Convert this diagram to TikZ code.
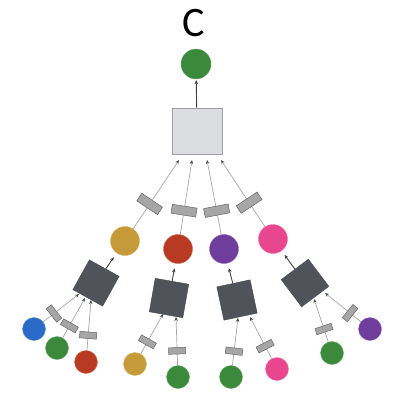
\documentclass[tikz,border=0pt]{standalone}
\usepackage{fontspec}
\setsansfont{Carlito}
\usetikzlibrary{arrows.meta}

\definecolor{leafgreen}{HTML}{3B8A3C}
\definecolor{gold}{HTML}{C49B38}
\definecolor{brick}{HTML}{B93A22}
\definecolor{plum}{HTML}{6F3D9B}
\definecolor{rose}{HTML}{E8468F}
\definecolor{azure}{HTML}{2B6BC8}
\definecolor{slate}{HTML}{50535A}
\definecolor{sumfill}{HTML}{DCDDE0}

\tikzset{
  ball/.style={circle, fill=#1, draw=#1!75!white, inner sep=0pt, minimum size=29pt},
  leaf/.style={ball=#1, minimum size=23pt},
  op/.style={draw=slate!85!black, fill=slate, inner sep=0pt, minimum size=34pt},
  wt/.style={sloped, draw=gray!80!black, fill=gray!70, inner sep=0pt, line width=0.5pt,
    minimum width=9pt, minimum height=25pt},
  lwt/.style={wt, minimum width=6.5pt, minimum height=17pt},
  link/.style={draw=gray!70, line width=0.7pt, -{Stealth[length=4pt,width=3.5pt,color=black!70]}},
  feed/.style={draw=black!75, line width=0.9pt, -{Stealth[length=4pt,width=3.5pt]}, shorten >=5pt}
}

\begin{document}
\begin{tikzpicture}[x=1pt,y=-1pt]
   \useasboundingbox (0,0) rectangle (398,397);
   \node (title) at (194,23) {\sffamily\fontsize{42}{42}\selectfont C};

   % output and sum
   \node[ball=leafgreen, minimum size=30pt] (out) at (196,64) {};
   \node[draw=gray!75, fill=sumfill, line width=0.8pt, minimum width=50pt, minimum height=46pt] (sum) at (197,131) {};

   % hidden layer
   \node[ball=gold]  (h_1) at (125,241) {};
   \node[ball=brick] (h_2) at (178,249) {};
   \node[ball=plum]  (h_3) at (224,249) {};
   \node[ball=rose]  (h_4) at (273,239) {};

   \node[op, rotate=-29] (op_1) at (96,283) {};
   \node[op, rotate=-10] (op_2) at (169,298) {};
   \node[op, rotate=12]  (op_3) at (237,300) {};
   \node[op, rotate=37]  (op_4) at (305,283) {};

   % inputs
   \node[leaf=azure]     (x_1) at (34,329) {};
   \node[leaf=leafgreen] (x_2) at (57,348) {};
   \node[leaf=brick]     (x_3) at (86,362) {};
   \node[leaf=gold]      (x_4) at (135,364) {};
   \node[leaf=leafgreen] (x_5) at (178,377) {};
   \node[leaf=leafgreen] (x_6) at (231,377) {};
   \node[leaf=rose]      (x_7) at (277,369) {};
   \node[leaf=leafgreen] (x_8) at (332,353) {};
   \node[leaf=plum]      (x_9) at (370,329) {};

   % where the arrows stop under each box
   \coordinate (s_1) at (179,160);
   \coordinate (s_2) at (192,160);
   \coordinate (s_3) at (207,160);
   \coordinate (s_4) at (221,160);
   \coordinate (a_1) at (79,294);
   \coordinate (a_2) at (85,298);
   \coordinate (a_3) at (91,300);
   \coordinate (b_1) at (163,314);
   \coordinate (b_2) at (176,317);
   \coordinate (c_1) at (238,318);
   \coordinate (c_2) at (250,317);
   \coordinate (d_1) at (314,299);
   \coordinate (d_2) at (325,293);

   \path[feed, shorten >=1pt] (sum) edge (out);
   \path[link]
    (h_1) edge node[wt, pos=0.36] {} (s_1)
    (h_2) edge node[wt, pos=0.32] {} (s_2)
    (h_3) edge node[wt, pos=0.32] {} (s_3)
    (h_4) edge node[wt, pos=0.36] {} (s_4);
   \path[feed]
    (op_1) edge (h_1)
    (op_2) edge (h_2)
    (op_3) edge (h_3)
    (op_4) edge (h_4);
   \path[link]
    (x_1) edge node[lwt, pos=0.3] {} (a_1)
    (x_2) edge node[lwt, pos=0.3] {} (a_2)
    (x_3) edge node[lwt, pos=0.3] {} (a_3)
    (x_4) edge node[lwt, pos=0.3] {} (b_1)
    (x_5) edge node[lwt, pos=0.3] {} (b_2)
    (x_6) edge node[lwt, pos=0.3] {} (c_1)
    (x_7) edge node[lwt, pos=0.3] {} (c_2)
    (x_8) edge node[lwt, pos=0.3] {} (d_1)
    (x_9) edge node[lwt, pos=0.3] {} (d_2);
\end{tikzpicture}
\end{document}
